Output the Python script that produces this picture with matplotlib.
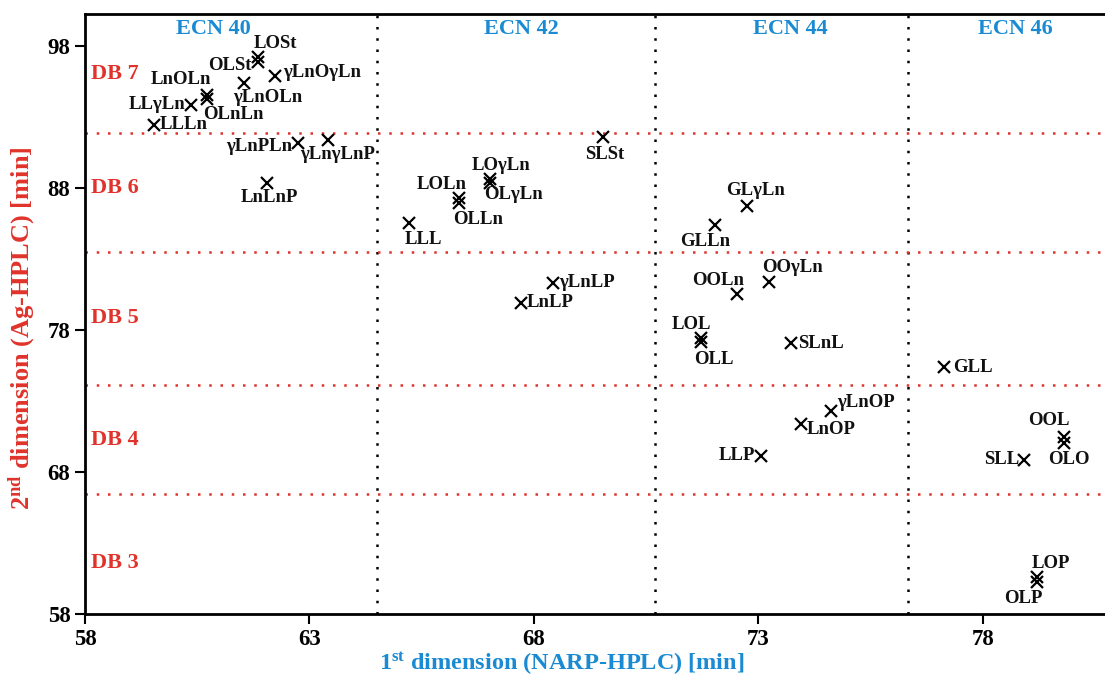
import matplotlib.pyplot as plt

# retention times
names = ['LOSt', 'OLSt', 'γLnOγLn', 'γLnOLn', 'LnOLn', 'OLnLn', 'LLγLn', 'LLLn',
         'γLnPLn', 'γLnγLnP', 'LnLnP',
         'SLSt', 'LOγLn', 'OLγLn', 'LOLn', 'OLLn', 'LLL', 'γLnLP', 'LnLP',
         'GLγLn', 'GLLn', 'OOγLn', 'OOLn', 'LOL', 'OLL', 'SLnL', 'γLnOP', 'LnOP', 'LLP',
         'GLL', 'OOL', 'OLO', 'SLL', 'LOP', 'OLP']
x1 = [61.85, 61.85, 62.23, 61.54, 60.72, 60.72, 60.36, 59.54,
      62.74, 63.41, 62.05,
      69.54, 67.02, 67.02, 66.33, 66.33, 65.22, 68.42, 67.71,
      72.74, 72.03, 73.23, 72.52, 71.72, 71.72, 73.72, 74.61, 73.95, 73.06,
      77.13, 79.80, 79.80, 78.91, 79.20, 79.20]
x2 = [97.2, 96.9, 95.9, 95.4, 94.55, 94.27, 93.85, 92.44,
      91.17, 91.38, 88.35,
      91.6, 88.63, 88.35, 87.3, 86.94, 85.54, 81.31, 79.9,
      86.73, 85.39, 81.38, 80.54, 77.44, 77.15, 77.08, 72.3, 71.38, 69.13,
      75.39, 70.46, 70.04, 68.85, 60.6, 60.25]

ecn_labels = ['ECN 40', 'ECN 42', 'ECN 44', 'ECN 46']
ecn_pos = [60.87, 67.73, 73.72, 78.73]
ecn_bounds = [64.5, 70.7, 76.33]
db_labels = ['DB 7', 'DB 6', 'DB 5', 'DB 4', 'DB 3']
db_pos = [96.0, 88.0, 78.85, 70.25, 61.6]
db_bounds = [91.9, 83.5, 74.1, 66.45]

# label placement: (dx, dy in pixels, horizontal alignment)
offs = {
    'LOSt': (18, 14, 'center'), 'OLSt': (-6, -4, 'right'), 'γLnOγLn': (8, 3, 'left'),
    'γLnOLn': (24, -15, 'center'), 'LnOLn': (-26, 15, 'center'), 'OLnLn': (26, -16, 'center'),
    'LLγLn': (-5, 0, 'right'), 'LLLn': (6, 0, 'left'), 'γLnPLn': (-6, -4, 'right'),
    'γLnγLnP': (10, -15, 'center'), 'LnLnP': (3, -15, 'center'),
    'SLSt': (2, -18, 'center'), 'LOγLn': (11, 14, 'center'), 'OLγLn': (24, -12, 'center'),
    'LOLn': (-17, 13, 'center'), 'OLLn': (19, -16, 'center'), 'LLL': (14, -17, 'center'),
    'γLnLP': (6, 0, 'left'), 'LnLP': (6, 0, 'left'),
    'GLγLn': (9, 15, 'center'), 'GLLn': (-10, -16, 'center'), 'OOγLn': (24, 14, 'center'),
    'OOLn': (-19, 13, 'center'), 'LOL': (-9, 13, 'center'), 'OLL': (13, -17, 'center'),
    'SLnL': (7, 0, 'left'), 'γLnOP': (6, 8, 'left'), 'LnOP': (6, -6, 'left'),
    'LLP': (-6, 0, 'right'),
    'GLL': (9, 0, 'left'), 'OOL': (-15, 17, 'center'), 'OLO': (5, -16, 'center'),
    'SLL': (-4, 0, 'right'), 'LOP': (14, 14, 'center'), 'OLP': (-13, -16, 'center'),
}

plt.rcParams['font.family'] = ['Liberation Serif', 'DejaVu Serif']
plt.rcParams['font.weight'] = 'bold'
plt.rcParams['mathtext.fontset'] = 'custom'
plt.rcParams['mathtext.rm'] = 'Liberation Serif:bold'
plt.rcParams['mathtext.it'] = 'Liberation Serif:bold'
plt.rcParams['mathtext.bf'] = 'Liberation Serif:bold'

blue = '#1a8bd2'
red = '#e0332b'

fig = plt.figure(figsize=(11.05, 6.76), dpi=100)
ax = fig.add_axes([85 / 1105, 62 / 676, 1020 / 1105, 600 / 676])
ax.set_xlim(58, 80.72)
ax.set_ylim(58, 100.25)

for b in ecn_bounds:
    ax.axvline(b, color='black', ls=(0, (1, 3.5)), lw=1.8, zorder=1)
for b in db_bounds:
    ax.axhline(b, color=red, ls=(0, (1, 3.5)), lw=1.8, zorder=1)

ax.plot(x1, x2, 'x', color='black', ms=8, mew=1.6, zorder=3)
for n, a, b in zip(names, x1, x2):
    dx, dy, ha = offs[n]
    ax.annotate(n, (a, b), xytext=(dx, dy), textcoords='offset pixels',
                ha=ha, va='center', fontsize=13.5, fontweight='bold', color='#111111')

for t, p in zip(ecn_labels, ecn_pos):
    ax.text(p, 99.2, t, color=blue, fontsize=16, fontweight='bold', ha='center', va='center')
for t, p in zip(db_labels, db_pos):
    ax.text(58.13, p, t, color=red, fontsize=16, fontweight='bold', ha='left', va='center')

ax.set_xticks([58, 63, 68, 73, 78])
ax.set_yticks([58, 68, 78, 88, 98])
ax.tick_params(direction='out', length=7, width=1.5, labelsize=16.5)
for s in ['left', 'bottom', 'top']:
    ax.spines[s].set_linewidth(2)
ax.spines['right'].set_visible(False)

ax.set_xlabel('1$^{st}$ dimension (NARP-HPLC) [min]', color=blue, fontsize=17.5,
              fontweight='bold')
ax.set_ylabel('2$^{nd}$ dimension (Ag-HPLC) [min]', color=red, fontsize=19,
              fontweight='bold')
ax.xaxis.set_label_coords(0.467, -0.061)
ax.yaxis.set_label_coords(-0.047, 0.477)

fig.savefig('out.png', dpi=100)
